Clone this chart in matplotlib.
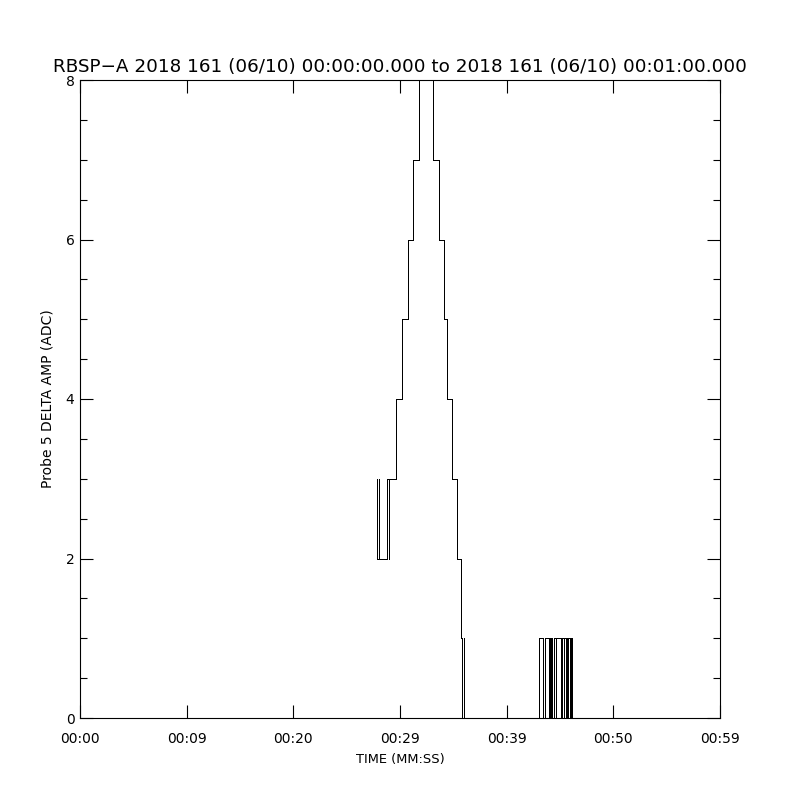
import numpy as np
import matplotlib
matplotlib.use("Agg")
import matplotlib.pyplot as plt
from matplotlib.ticker import MultipleLocator

# time of each level change (seconds after 00:00:00) and the level held from then on
# (a repeated time is a spike that goes and comes back within one sample)
t_change = [27.84, 27.84, 28.03, 28.03, 28.03,
            28.78, 28.97, 28.97, 28.97,
            29.67, 30.22, 30.78, 31.25, 31.75,
            33.07, 33.63, 34.11, 34.38, 34.85, 35.34, 35.69,
            35.82, 36.01, 36.01,
            43.03, 43.36, 43.55, 43.94, 44.02, 44.11, 44.18, 44.28,
            44.44, 44.58, 44.65, 45.09, 45.22, 45.33, 45.42, 45.52,
            45.59, 45.67, 45.78, 45.94, 46.00, 46.10, 60.0]
amp = [3, 2, 2, 3, 2,
       3, 3, 2, 3,
       4, 5, 6, 7, 8,
       7, 6, 5, 4, 3, 2, 1,
       0, 1, 0,
       1, 0, 1, 0, 1, 0, 1, 0,
       1, 0, 1, 0, 1, 0, 1, 0,
       1, 0, 1, 0, 1, 0, 0]

xticks = [0, 10, 20, 30, 40, 50, 60]
xticklabels = ['00:00', '00:09', '00:20', '00:29', '00:39', '00:50', '00:59']
yticks = [0, 2, 4, 6, 8]

title = ('RBSP\u2212A 2018 161 (06/10) 00:00:00.000 to '
         '2018 161 (06/10) 00:01:00.000')

plt.rcParams['font.family'] = ['DejaVu Sans']

fig = plt.figure(figsize=(8, 8), dpi=100)
ax = fig.add_axes([0.1, 0.1025, 0.8, 0.7975])

ax.step(t_change, amp, where='post', color='black', lw=0.5,
        antialiased=False)

ax.set_xlim(0, 60)
ax.set_ylim(0, 8)
ax.set_xticks(xticks)
ax.set_xticklabels(xticklabels)
ax.set_yticks(yticks)
ax.set_yticklabels([str(v) for v in yticks])
ax.yaxis.set_minor_locator(MultipleLocator(0.5))

ax.tick_params(axis='both', which='major', direction='in', length=9.5,
               width=0.8, top=True, right=True, labelsize=10)
ax.tick_params(axis='y', which='minor', direction='in', length=5,
               width=0.8, left=True, right=True)
ax.tick_params(axis='x', which='major', pad=10)
ax.tick_params(axis='y', which='major', pad=4)
for s in ax.spines.values():
    s.set_linewidth(0.8)

ax.set_title(title, fontsize=13.2, pad=6)
ax.set_xlabel('TIME (MM:SS)', fontsize=9.4, labelpad=5)
ax.set_ylabel('Probe 5 DELTA AMP (ADC)', fontsize=10, labelpad=8)

fig.savefig('out.png', dpi=100)
